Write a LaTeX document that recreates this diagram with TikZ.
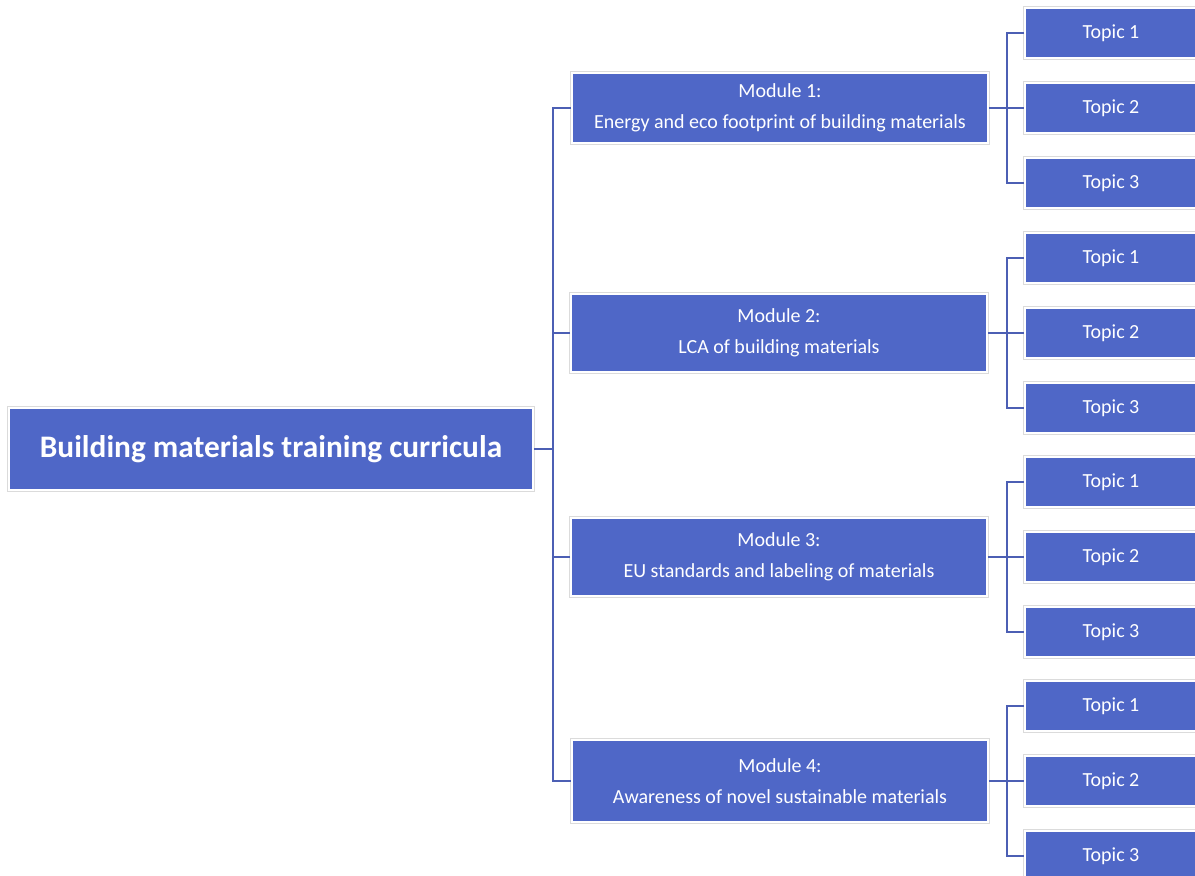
\documentclass[tikz,border=0pt]{standalone}
\usepackage{fontspec}
\setmainfont{Carlito}
\definecolor{boxblue}{HTML}{4F67C7}
\definecolor{linkblue}{HTML}{4C5FB4}

\begin{document}
\begin{tikzpicture}[x=0.75pt,y=-0.75pt,
	box/.style={fill=boxblue,text=white,inner sep=0pt,align=center,
		preaction={draw=black!14,line width=2.4pt},draw=white,line width=1.4pt},
	rootbox/.style={box,minimum width=393pt,minimum height=61.5pt,font=\fontsize{23.5pt}{27pt}\selectfont\bfseries},
	modbox/.style={box,minimum width=312pt,minimum height=59pt,font=\fontsize{15pt}{23pt}\selectfont},
	topicbox/.style={box,minimum width=129pt,minimum height=37.5pt,font=\fontsize{15pt}{18pt}\selectfont},
	link/.style={draw=linkblue,line width=1.4pt}]
	\useasboundingbox (0,0) rectangle (1195,875);
	% root and modules
	\node[rootbox] (root) at (271,449) {Building materials training curricula};
	\node[modbox,minimum height=53pt] (m1) at (780,108) {Module 1:\\Energy and eco footprint of building materials};
	\node[modbox] (m2) at (779,333) {Module 2:\\LCA of building materials};
	\node[modbox] (m3) at (779,557) {Module 3:\\EU standards and labeling of materials};
	\node[modbox,minimum height=62pt] (m4) at (780,781) {Module 4:\\Awareness of novel sustainable materials};
	% topics
	\foreach \i/\y in {1/108,2/333,3/557,4/781}
	\foreach \j in {1,2,3}
	{
		\node[topicbox] (t\i\j) at (1111,{\y+75*(\j-2)}) {Topic \j};
	}
	% connectors
	\coordinate (trunk) at (553,449);
	\coordinate (fork) at (1007,449);
	\draw[link] (root.east) -- (trunk);
	\draw[link] (m1.west) -| (trunk) |- (m4.west);
	\draw[link] (m2.west) -- (m2.west -| trunk);
	\draw[link] (m3.west) -- (m3.west -| trunk);
	\foreach \i in {1,...,4}
	{
		\draw[link] (m\i.east) -- (t\i2.west);
		\draw[link] (t\i1.west) -| (t\i2.west -| fork) |- (t\i3.west);
	}
\end{tikzpicture}
\end{document}
